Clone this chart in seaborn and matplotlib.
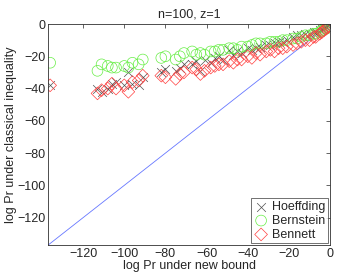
import numpy as np
import pandas as pd
import seaborn as sns
import matplotlib
matplotlib.use("Agg")
import matplotlib.pyplot as plt

# log Pr under the new bound (shared x for all three inequalities)
new_bound = [-136, -113, -111, -108, -106, -104, -100, -98, -96, -93, -91,
             -82, -80, -75, -73, -71, -67, -65, -63, -61, -58, -56, -54, -52,
             -49, -47, -45, -43, -40, -38, -36, -34, -31, -29, -27, -25, -23,
             -21, -18, -16, -14, -12, -10, -8, -7, -5, -4, -3, -2, -1, -0.5]

hoeffding = [-38, -40, -42, -40, -37, -36, -38, -30, -37, -38, -33,
             -30, -28, -29, -27, -25, -25, -23, -29, -22, -24, -21, -20, -22,
             -16, -19, -17, -18, -15, -16, -15, -14, -13, -13, -12, -11, -11,
             -10, -8, -7, -7, -6, -6, -5, -5, -4, -3, -2.5, -2, -1, -0.5]

bernstein = [-24, -29, -25, -26, -27, -27, -26, -27, -24, -25, -22,
             -21, -20, -22, -20, -18, -17, -19, -18, -19, -17, -17, -16, -16,
             -15, -15, -16, -14, -14, -13, -12, -12, -12, -11, -11, -11, -10,
             -10, -9, -9, -8, -7, -7, -6, -6, -5, -4, -3.5, -3, -2, -1]

bennett = [-38, -43, -41, -40, -37, -40, -38, -42, -36, -35, -32,
           -32, -33, -34, -31, -30, -27, -28, -31, -29, -27, -26, -25, -25,
           -23, -24, -22, -22, -20, -21, -18, -19, -17, -16, -17, -15, -15,
           -14, -13, -12, -11, -10, -10, -8, -8, -6, -5, -4, -3, -2, -1]

df = pd.DataFrame({"new": new_bound, "Hoeffding": hoeffding,
                   "Bernstein": bernstein, "Bennett": bennett})
long_df = df.melt(id_vars="new", var_name="ineq", value_name="classical")

sns.set_style("white")
plt.rcParams["font.family"] = ["Liberation Sans", "DejaVu Sans"]
plt.rcParams["font.size"] = 9

fig = plt.figure(figsize=(3.41, 2.76), dpi=100)
ax = fig.add_axes([0.141, 0.112, 0.827, 0.801])

styles = {"Hoeffding": ("x", "#505050"),
          "Bernstein": ("o", "#66ee44"),
          "Bennett": ("D", "#ff4040")}
for name, (mk, col) in styles.items():
    sub = long_df[long_df["ineq"] == name]
    if mk == "x":
        sns.scatterplot(data=sub, x="new", y="classical", marker=mk, color=col,
                        s=40, linewidth=0.5, ax=ax, label=name)
    else:
        sns.scatterplot(data=sub, x="new", y="classical", marker=mk,
                        color=col, facecolors="none", edgecolor=col,
                        s=60 if mk == "o" else 42, linewidth=0.5, ax=ax, label=name)

ax.axline((0, 0), slope=1, color="#6677ff", lw=0.6, zorder=0)

ax.set_xlim(-137, 0)
ax.set_ylim(-137, 0)
ax.set_xticks(np.arange(-120, 1, 20))
ax.set_yticks(np.arange(-120, 1, 20))
ax.tick_params(direction="in", length=3, width=0.5, top=True, right=True,
               labelsize=9, pad=2)
for sp in ax.spines.values():
    sp.set_color("#303030")
    sp.set_linewidth(0.6)

ax.set_xlabel("log Pr under new bound", fontsize=9, labelpad=0)
ax.set_ylabel("log Pr under classical inequality", fontsize=9, labelpad=0)
ax.set_title("n=100, z=1", fontsize=9, pad=5)

leg = ax.legend(loc="lower right", fontsize=9, frameon=True, fancybox=False,
                borderpad=0.2, labelspacing=0.15, handletextpad=0.3,
                handlelength=1.2, borderaxespad=0.15)
leg.get_frame().set_edgecolor("#303030")
leg.get_frame().set_linewidth(0.6)

fig.savefig("out.png", dpi=100)
